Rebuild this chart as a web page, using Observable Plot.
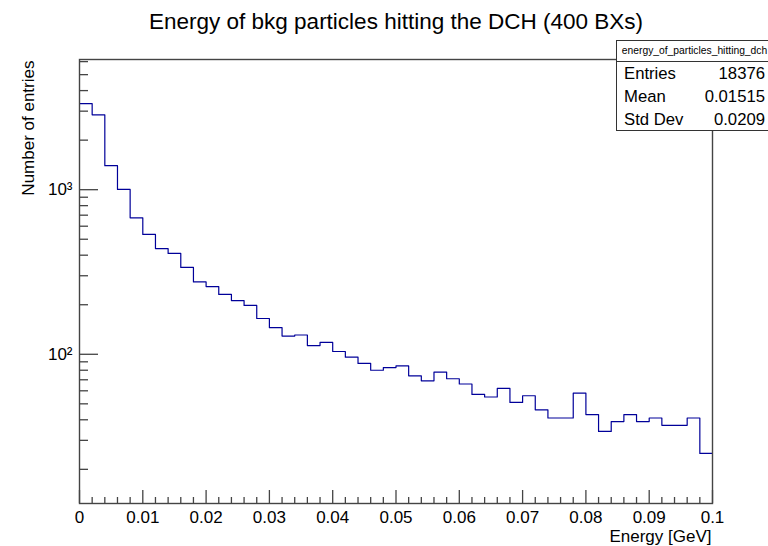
<!DOCTYPE html>
<html>
<head>
<meta charset="utf-8">
<script src="https://cdn.jsdelivr.net/npm/d3@7"></script>
<script src="https://cdn.jsdelivr.net/npm/@observablehq/plot@0.6"></script>
<style>
  body { margin: 0; background: #fff; overflow: hidden; font-family: "Liberation Sans", Arial, Helvetica, sans-serif; }
  #wrap { position: relative; width: 768px; height: 546px; overflow: hidden; }
  #stats { position: absolute; left: 616px; top: 40px; width: 157px; height: 91px; border: 1px solid #333; background: #fff; box-sizing: border-box; color: #000; }
  #stats .hdr { height: 21px; line-height: 20px; border-bottom: 1px solid #333; font-size: 10.3px; text-align: center; white-space: nowrap; overflow: hidden; box-sizing: border-box; }
  #stats .row { display: flex; justify-content: space-between; height: 23px; line-height: 23px; font-size: 16.7px; padding: 0 7px 0 7px; }
</style>
</head>
<body>
<div id="wrap"></div>
<script>
// ---- data ----
const histName = "energy_of_particles_hitting_dch";
const titleText = "Energy of bkg particles hitting the DCH (400 BXs)";
const xLabel = "Energy [GeV]";
const yLabel = "Number of entries";
const binWidth = 0.002;
const counts = [3334, 2849, 1400, 1004, 675, 535, 439, 410, 337, 275,
                258, 231, 212, 198, 165, 145, 129, 131, 113, 118,
                104, 96, 88, 80, 83, 85, 74, 69, 78, 71,
                66, 57, 55, 62, 51, 56, 46, 41, 41, 58,
                43, 34, 39, 43, 39, 41, 37, 37, 41, 25];
const xMajorTicks = [0, 0.01, 0.02, 0.03, 0.04, 0.05, 0.06, 0.07, 0.08, 0.09, 0.1];
const xMinorTicks = [0.002, 0.004, 0.006, 0.008, 0.012, 0.014, 0.016, 0.018, 0.022, 0.024, 0.026, 0.028,
                     0.032, 0.034, 0.036, 0.038, 0.042, 0.044, 0.046, 0.048, 0.052, 0.054, 0.056, 0.058,
                     0.062, 0.064, 0.066, 0.068, 0.072, 0.074, 0.076, 0.078, 0.082, 0.084, 0.086, 0.088,
                     0.092, 0.094, 0.096, 0.098];
const yMajorTicks = [100, 1000];
const yMajorLabels = ["10²", "10³"];
const yMinorTicks = [20, 30, 40, 50, 60, 70, 80, 90, 200, 300, 400, 500, 600, 700, 800, 900,
                     2000, 3000, 4000, 5000, 6000];
const yDomain = [12.4, 6180];
const xDomain = [0, 0.1];
const statsLabels = ["Entries", "Mean", "Std Dev"];
const statsValues = ["18376", "0.01515", "0.0209"];

// ---- build ----
const steps = counts.map((c, i) => ({x: i * binWidth, y: c}));
steps.push({x: counts.length * binWidth, y: counts[counts.length - 1]});

const axisColor = "#444";
const font = "Liberation Sans, Arial, Helvetica, sans-serif";

const chart = Plot.plot({
  width: 768,
  height: 546,
  marginLeft: 79,
  marginRight: 56,
  marginTop: 59,
  marginBottom: 43,
  style: {fontFamily: font, color: "#000", background: "#fff"},
  x: {type: "linear", domain: xDomain, label: null},
  y: {type: "log", domain: yDomain, label: null},
  marks: [
    Plot.line(steps, {x: "x", y: "y", curve: "step-after", stroke: "#000099", strokeWidth: 1.2}),
    Plot.frame({stroke: axisColor, strokeWidth: 1.4}),
    // x ticks (inward)
    Plot.axisX({ticks: xMajorTicks, tickSize: -13, tickFormat: () => "", label: null, stroke: axisColor, strokeWidth: 1.3}),
    Plot.axisX({ticks: xMinorTicks, tickSize: -6, tickFormat: () => "", label: null, stroke: axisColor, strokeWidth: 1.3}),
    Plot.axisX({ticks: xMajorTicks, tickSize: 0, tickPadding: 7, fontSize: 17, fill: "#000", label: null,
                tickFormat: d => String(+d.toFixed(3))}),
    // y ticks (inward)
    Plot.axisY({ticks: yMajorTicks, tickSize: -19, tickFormat: () => "", label: null, stroke: axisColor, strokeWidth: 1.3}),
    Plot.axisY({ticks: yMinorTicks, tickSize: -9, tickFormat: () => "", label: null, stroke: axisColor, strokeWidth: 1.3}),
    Plot.axisY({ticks: yMajorTicks, tickSize: 0, tickPadding: 7, fontSize: 17, fill: "#000", label: null,
                tickFormat: d => yMajorLabels[yMajorTicks.indexOf(d)]}),
    // titles
    Plot.text([titleText], {frameAnchor: "top", dy: -37.5, fontSize: 22.5, lineAnchor: "middle", fill: "#000"}),
    Plot.text([xLabel], {frameAnchor: "bottom-right", textAnchor: "end", lineAnchor: "middle", dx: -1, dy: 33, fontSize: 17, fill: "#000"}),
    Plot.text([yLabel], {frameAnchor: "top-left", rotate: -90, textAnchor: "end", lineAnchor: "middle", dx: -51, dy: 1, fontSize: 17, fill: "#000"})
  ]
});

const wrap = document.getElementById("wrap");
wrap.appendChild(chart);

const stats = document.createElement("div");
stats.id = "stats";
const hdr = document.createElement("div");
hdr.className = "hdr";
hdr.textContent = histName;
stats.appendChild(hdr);
statsLabels.forEach((lab, i) => {
  const row = document.createElement("div");
  row.className = "row";
  const a = document.createElement("span"); a.textContent = lab;
  const b = document.createElement("span"); b.textContent = statsValues[i];
  row.appendChild(a); row.appendChild(b);
  stats.appendChild(row);
});
wrap.appendChild(stats);
</script>
</body>
</html>
